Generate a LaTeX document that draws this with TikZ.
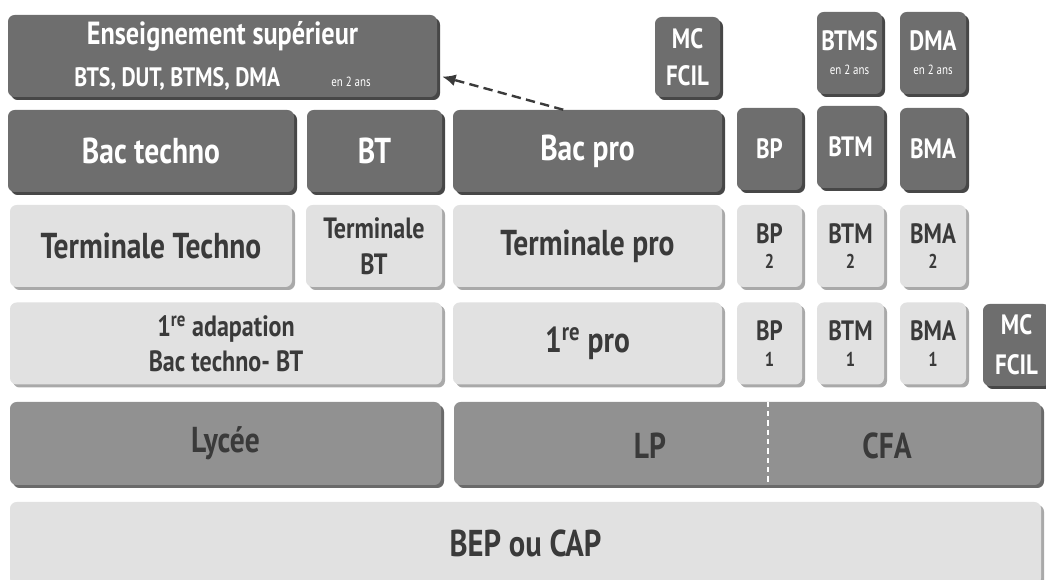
\documentclass[tikz,border=0pt]{standalone}
\usepackage{fontspec}
\setmainfont{PT Sans}[FakeStretch=0.82]
\usetikzlibrary{shadows,arrows.meta,calc}
\definecolor{boxdark}{HTML}{6E6E6E}
\definecolor{shadedark}{HTML}{474747}
\definecolor{boxlight}{HTML}{E1E1E1}
\definecolor{shadelight}{HTML}{A9A9A9}
\definecolor{boxmid}{HTML}{919191}
\definecolor{shademid}{HTML}{6A6A6A}
\definecolor{textdark}{HTML}{3A3A3A}
\newcommand\fnum{\bfseries\fontsize{15}{17}\selectfont}
\newcommand\ftiny{\mdseries\fontsize{10}{12}\selectfont}

\begin{document}
\begin{tikzpicture}[x=0.75pt,y=-0.75pt,
  taille/.style 2 args={font=\bfseries\fontsize{#1}{#2}\selectfont},
  bloc/.style 2 args={rounded corners=5pt, inner sep=0pt, align=center,
    taille={27}{29}, minimum width=#1*0.75pt, minimum height=#2*0.75pt},
  sombre/.style={bloc={#1}{82}, fill=boxdark, text=white,
    drop shadow={shadow xshift=2.25pt, shadow yshift=-2.25pt, fill=shadedark, opacity=1}},
  clair/.style={bloc={#1}{82}, fill=boxlight, text=textdark,
    drop shadow={shadow xshift=2.25pt, shadow yshift=-2.25pt, fill=shadelight, opacity=1}},
  moyen/.style={bloc={#1}{83}, fill=boxmid, text=textdark,
    drop shadow={shadow xshift=2.25pt, shadow yshift=-2.25pt, fill=shademid, opacity=1}}]
\useasboundingbox (0,0) rectangle (1046,580);
\clip (0,0) rectangle (1046,580);

% row 1
\node[sombre=429, taille={24}{32}] (sup) at (222.5,56)
  {Enseignement supérieur\\
   {\fontsize{20}{22}\selectfont BTS, DUT, BTMS, DMA}\hspace{1.6em}{\ftiny en 2 ans}};
\node[sombre=65, minimum height=80*0.75pt, taille={21}{28}] (mcfcilhaut) at (687.5,57) {MC\\FCIL};
\node[sombre=65, taille={21}{18}] (btms) at (849.5,53) {BTMS\\{\ftiny en 2 ans}};
\node[sombre=66, taille={21}{18}] (dma) at (933,53) {DMA\\{\ftiny en 2 ans}};

% row 2
\node[sombre=286] (bactechno) at (151,151) {Bac techno};
\node[sombre=135] (bt) at (374.5,151) {BT};
\node[sombre=269] (bacpro) at (587.5,151) {Bac pro};
\node[sombre=65, taille={21}{22}] (bp) at (769.5,149) {BP};
\node[sombre=67, taille={21}{22}] (btm) at (850.5,147) {BTM};
\node[sombre=66, taille={21}{22}] (bma) at (933,149) {BMA};

% row 3
\node[clair=282] (termtechno) at (151,246) {Terminale Techno};
\node[clair=136, taille={22}{27}] (termbt) at (374,246) {Terminale\\BT};
\node[clair=269] (termpro) at (587.5,246) {Terminale pro};
\node[clair=65, taille={21}{19}] (bpdeux) at (769.5,246) {BP\\{\fnum 2}};
\node[clair=67, taille={21}{19}] (btmdeux) at (850.5,246) {BTM\\{\fnum 2}};
\node[clair=66, taille={21}{19}] (bmadeux) at (933,246) {BMA\\{\fnum 2}};

% row 4
\node[clair=432, taille={22}{26}] (adapt) at (226,343.5)
  {1\textsuperscript{re} adapation\\Bac techno- BT};
\node[clair=269] (premiere) at (587.5,343.5) {1\textsuperscript{re} pro};
\node[clair=65, taille={21}{19}] (bpun) at (769.5,343.5) {BP\\{\fnum 1}};
\node[clair=67, taille={21}{19}] (btmun) at (850.5,343.5) {BTM\\{\fnum 1}};
\node[clair=66, taille={21}{19}] (bmaun) at (933,343.5) {BMA\\{\fnum 1}};
\node[sombre=67, taille={21}{30}] (mcfcilbas) at (1016.5,345) {MC\\FCIL};

% row 5
\node[moyen=431] (lycee) at (225.5,443.5) {Lycée};
\node[moyen=587] (lpcfa) at (747.5,443.5) {};
\node[taille={27}{29}, text=textdark] (lp) at (650,446) {LP};
\node[taille={27}{29}, text=textdark] (cfa) at (887,446) {CFA};
\draw[white, line width=1.2pt, dash pattern=on 4pt off 3pt]
  ($(lpcfa.north west)!0.535!(lpcfa.north east)$) -- ($(lpcfa.south west)!0.535!(lpcfa.south east)$);

% row 6
\node[clair=1031, minimum height=83*0.75pt, taille={28}{30}] (bep) at (525.5,543.5) {BEP ou CAP};

% dashed link
\coordinate (depart) at ($(bacpro.north west)!0.41!(bacpro.north east)$);
\coordinate (arrivee) at ($(sup.east)!0.5!(sup.south east)+(5,0)$);
\draw[textdark, line width=1.8pt, dash pattern=on 7pt off 4pt, -{Latex[length=10pt,width=9pt]}]
  (depart) -- (arrivee);
\end{tikzpicture}
\end{document}
